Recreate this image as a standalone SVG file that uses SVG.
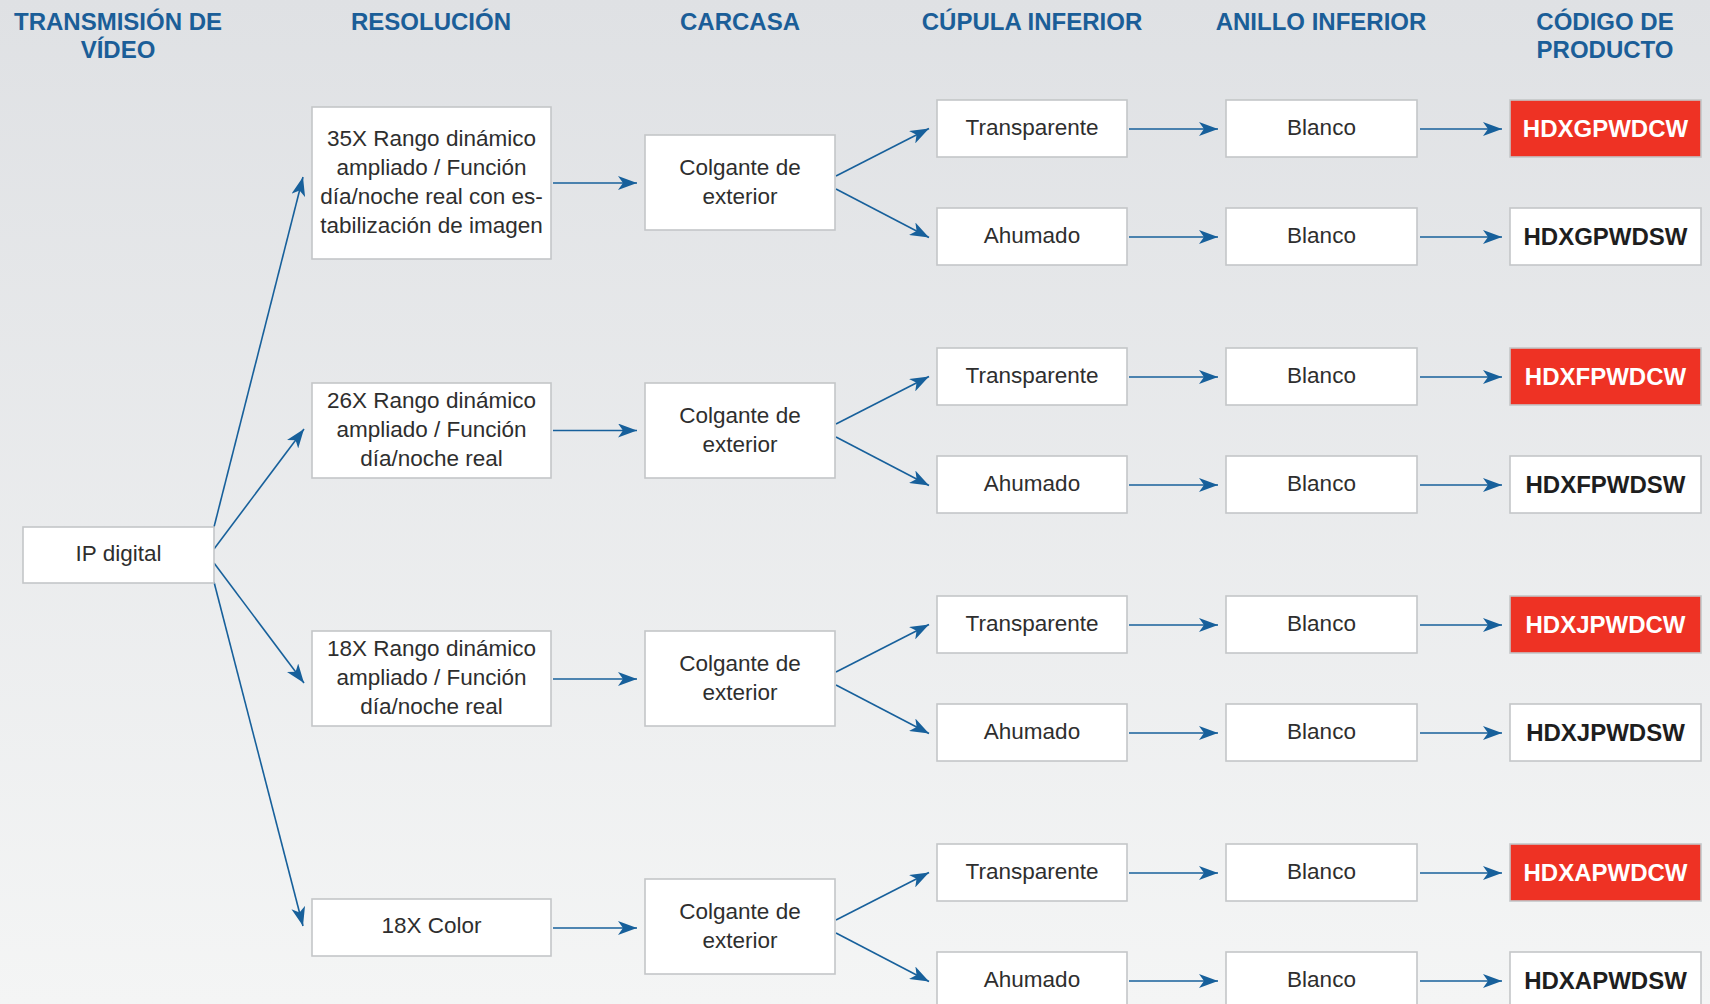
<svg xmlns="http://www.w3.org/2000/svg" width="1710" height="1004" viewBox="0 0 1710 1004">
<defs>
<linearGradient id="bg" x1="0" y1="0" x2="0" y2="1">
<stop offset="0" stop-color="#dfe1e4"/>
<stop offset="1" stop-color="#f4f5f5"/>
</linearGradient>
<marker id="ah" markerUnits="userSpaceOnUse" markerWidth="20" markerHeight="14" refX="19" refY="7" orient="auto">
<path d="M0,0 L19,7 L0,14 L5,7 Z" fill="#17609b"/>
</marker>
<style>
.hd{font-family:"Liberation Sans",Arial,sans-serif;font-weight:bold;font-size:24px;fill:#1b5e98;text-anchor:middle}
.bx{fill:#ffffff;stroke:#c4c6c8;stroke-width:1.6}
.red{fill:#ee3224;stroke:#c4c6c8;stroke-width:1.6}
.t{font-family:"Liberation Sans",Arial,sans-serif;font-size:22.5px;fill:#2e2e2e;text-anchor:middle}
.cd{font-family:"Liberation Sans",Arial,sans-serif;font-weight:bold;font-size:24px;fill:#1e1e1e;text-anchor:middle}
.cw{font-family:"Liberation Sans",Arial,sans-serif;font-weight:bold;font-size:24px;fill:#ffffff;text-anchor:middle}
.ar{stroke:#17609b;stroke-width:1.6;fill:none;marker-end:url(#ah)}
</style>
</defs>
<rect x="0" y="0" width="1710" height="1004" fill="url(#bg)"/>

<g id="headers">
<text class="hd" x="118" y="30">TRANSMISIÓN DE</text>
<text class="hd" x="118" y="58">VÍDEO</text>
<text class="hd" x="431" y="30">RESOLUCIÓN</text>
<text class="hd" x="740" y="30">CARCASA</text>
<text class="hd" x="1032" y="30">CÚPULA INFERIOR</text>
<text class="hd" x="1321" y="30">ANILLO INFERIOR</text>
<text class="hd" x="1605" y="30">CÓDIGO DE</text>
<text class="hd" x="1605" y="58">PRODUCTO</text>
</g>

<g id="connectors">
<line class="ar" x1="214" y1="527" x2="303" y2="177"/>
<line class="ar" x1="214" y1="549" x2="304" y2="429"/>
<line class="ar" x1="214" y1="563" x2="304" y2="683"/>
<line class="ar" x1="214" y1="582" x2="303" y2="926"/>

<line class="ar" x1="553" y1="183" x2="637" y2="183"/>
<line class="ar" x1="553" y1="430.5" x2="637" y2="430.5"/>
<line class="ar" x1="553" y1="679" x2="637" y2="679"/>
<line class="ar" x1="553" y1="928" x2="637" y2="928"/>

<line class="ar" x1="836" y1="176" x2="929" y2="128.5"/>
<line class="ar" x1="836" y1="189" x2="929" y2="237.5"/>
<line class="ar" x1="836" y1="424" x2="929" y2="376.5"/>
<line class="ar" x1="836" y1="437" x2="929" y2="485.5"/>
<line class="ar" x1="836" y1="672" x2="929" y2="624.5"/>
<line class="ar" x1="836" y1="685" x2="929" y2="733.5"/>
<line class="ar" x1="836" y1="920" x2="929" y2="872.5"/>
<line class="ar" x1="836" y1="933" x2="929" y2="981.5"/>

<line class="ar" x1="1129" y1="129" x2="1218" y2="129"/>
<line class="ar" x1="1129" y1="237" x2="1218" y2="237"/>
<line class="ar" x1="1129" y1="377" x2="1218" y2="377"/>
<line class="ar" x1="1129" y1="485" x2="1218" y2="485"/>
<line class="ar" x1="1129" y1="625" x2="1218" y2="625"/>
<line class="ar" x1="1129" y1="733" x2="1218" y2="733"/>
<line class="ar" x1="1129" y1="873" x2="1218" y2="873"/>
<line class="ar" x1="1129" y1="981" x2="1218" y2="981"/>

<line class="ar" x1="1420" y1="129" x2="1502" y2="129"/>
<line class="ar" x1="1420" y1="237" x2="1502" y2="237"/>
<line class="ar" x1="1420" y1="377" x2="1502" y2="377"/>
<line class="ar" x1="1420" y1="485" x2="1502" y2="485"/>
<line class="ar" x1="1420" y1="625" x2="1502" y2="625"/>
<line class="ar" x1="1420" y1="733" x2="1502" y2="733"/>
<line class="ar" x1="1420" y1="873" x2="1502" y2="873"/>
<line class="ar" x1="1420" y1="981" x2="1502" y2="981"/>
</g>

<g id="ip-digital">
<rect class="bx" x="23" y="527" width="191" height="56"/>
<text class="t" x="118.5" y="561">IP digital</text>
</g>

<g id="res-35x">
<rect class="bx" x="312" y="107" width="239" height="152"/>
<text class="t" x="431.5" y="146">35X Rango dinámico</text>
<text class="t" x="431.5" y="175">ampliado / Función</text>
<text class="t" x="431.5" y="204">día/noche real con es-</text>
<text class="t" x="431.5" y="233">tabilización de imagen</text>
</g>
<g id="res-26x">
<rect class="bx" x="312" y="383" width="239" height="95"/>
<text class="t" x="431.5" y="408">26X Rango dinámico</text>
<text class="t" x="431.5" y="437">ampliado / Función</text>
<text class="t" x="431.5" y="466">día/noche real</text>
</g>
<g id="res-18x">
<rect class="bx" x="312" y="631" width="239" height="95"/>
<text class="t" x="431.5" y="656">18X Rango dinámico</text>
<text class="t" x="431.5" y="685">ampliado / Función</text>
<text class="t" x="431.5" y="714">día/noche real</text>
</g>
<g id="res-18x-color">
<rect class="bx" x="312" y="899" width="239" height="57"/>
<text class="t" x="431.5" y="933">18X Color</text>
</g>

<g id="carcasa-1">
<rect class="bx" x="645" y="135" width="190" height="95"/>
<text class="t" x="740" y="175">Colgante de</text>
<text class="t" x="740" y="204">exterior</text>
</g>
<g id="carcasa-2">
<rect class="bx" x="645" y="383" width="190" height="95"/>
<text class="t" x="740" y="423">Colgante de</text>
<text class="t" x="740" y="452">exterior</text>
</g>
<g id="carcasa-3">
<rect class="bx" x="645" y="631" width="190" height="95"/>
<text class="t" x="740" y="671">Colgante de</text>
<text class="t" x="740" y="700">exterior</text>
</g>
<g id="carcasa-4">
<rect class="bx" x="645" y="879" width="190" height="95"/>
<text class="t" x="740" y="919">Colgante de</text>
<text class="t" x="740" y="948">exterior</text>
</g>

<g id="cupula-1t"><rect class="bx" x="937" y="100" width="190" height="57"/><text class="t" x="1032" y="135">Transparente</text></g>
<g id="cupula-1a"><rect class="bx" x="937" y="208" width="190" height="57"/><text class="t" x="1032" y="243">Ahumado</text></g>
<g id="cupula-2t"><rect class="bx" x="937" y="348" width="190" height="57"/><text class="t" x="1032" y="383">Transparente</text></g>
<g id="cupula-2a"><rect class="bx" x="937" y="456" width="190" height="57"/><text class="t" x="1032" y="491">Ahumado</text></g>
<g id="cupula-3t"><rect class="bx" x="937" y="596" width="190" height="57"/><text class="t" x="1032" y="631">Transparente</text></g>
<g id="cupula-3a"><rect class="bx" x="937" y="704" width="190" height="57"/><text class="t" x="1032" y="739">Ahumado</text></g>
<g id="cupula-4t"><rect class="bx" x="937" y="844" width="190" height="57"/><text class="t" x="1032" y="879">Transparente</text></g>
<g id="cupula-4a"><rect class="bx" x="937" y="952" width="190" height="57"/><text class="t" x="1032" y="987">Ahumado</text></g>

<g id="anillo-1t"><rect class="bx" x="1226" y="100" width="191" height="57"/><text class="t" x="1321.5" y="135">Blanco</text></g>
<g id="anillo-1a"><rect class="bx" x="1226" y="208" width="191" height="57"/><text class="t" x="1321.5" y="243">Blanco</text></g>
<g id="anillo-2t"><rect class="bx" x="1226" y="348" width="191" height="57"/><text class="t" x="1321.5" y="383">Blanco</text></g>
<g id="anillo-2a"><rect class="bx" x="1226" y="456" width="191" height="57"/><text class="t" x="1321.5" y="491">Blanco</text></g>
<g id="anillo-3t"><rect class="bx" x="1226" y="596" width="191" height="57"/><text class="t" x="1321.5" y="631">Blanco</text></g>
<g id="anillo-3a"><rect class="bx" x="1226" y="704" width="191" height="57"/><text class="t" x="1321.5" y="739">Blanco</text></g>
<g id="anillo-4t"><rect class="bx" x="1226" y="844" width="191" height="57"/><text class="t" x="1321.5" y="879">Blanco</text></g>
<g id="anillo-4a"><rect class="bx" x="1226" y="952" width="191" height="57"/><text class="t" x="1321.5" y="987">Blanco</text></g>

<g id="code-hdxgpwdcw"><rect class="red" x="1510" y="100" width="191" height="57"/><text class="cw" x="1605.5" y="137">HDXGPWDCW</text></g>
<g id="code-hdxgpwdsw"><rect class="bx" x="1510" y="208" width="191" height="57"/><text class="cd" x="1605.5" y="245">HDXGPWDSW</text></g>
<g id="code-hdxfpwdcw"><rect class="red" x="1510" y="348" width="191" height="57"/><text class="cw" x="1605.5" y="385">HDXFPWDCW</text></g>
<g id="code-hdxfpwdsw"><rect class="bx" x="1510" y="456" width="191" height="57"/><text class="cd" x="1605.5" y="493">HDXFPWDSW</text></g>
<g id="code-hdxjpwdcw"><rect class="red" x="1510" y="596" width="191" height="57"/><text class="cw" x="1605.5" y="633">HDXJPWDCW</text></g>
<g id="code-hdxjpwdsw"><rect class="bx" x="1510" y="704" width="191" height="57"/><text class="cd" x="1605.5" y="741">HDXJPWDSW</text></g>
<g id="code-hdxapwdcw"><rect class="red" x="1510" y="844" width="191" height="57"/><text class="cw" x="1605.5" y="881">HDXAPWDCW</text></g>
<g id="code-hdxapwdsw"><rect class="bx" x="1510" y="952" width="191" height="57"/><text class="cd" x="1605.5" y="989">HDXAPWDSW</text></g>
</svg>
